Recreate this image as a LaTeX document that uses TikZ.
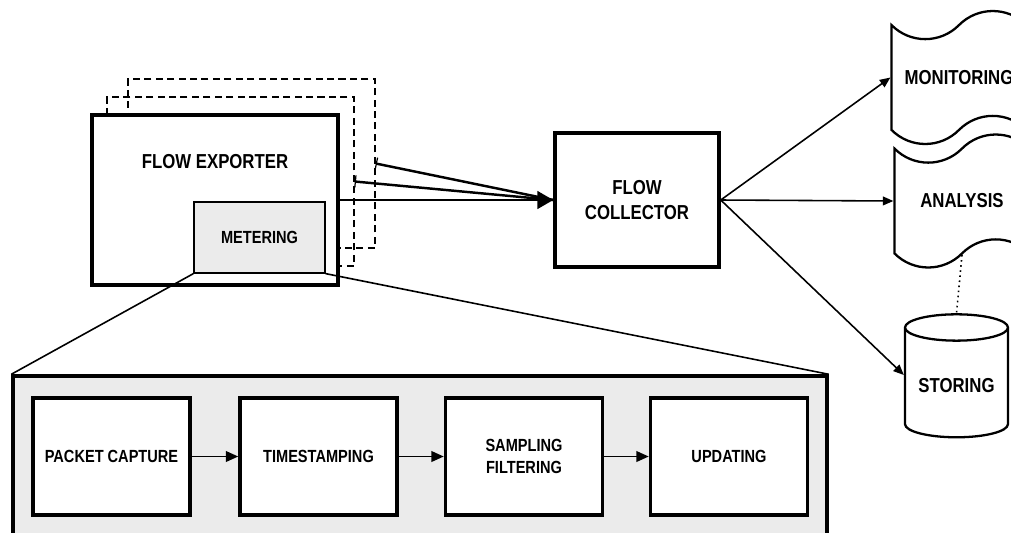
\documentclass[tikz,border=0pt]{standalone}
\usepackage{fontspec}
\newfontfamily\diagfont[FakeStretch=0.83]{Liberation Sans}
\usepackage{tikz}
\usetikzlibrary{arrows.meta,positioning,shapes.symbols,shapes.geometric}
\definecolor{panelgray}{gray}{0.92}
\newcommand\boxfont{\diagfont\bfseries\fontsize{11.5}{14.5}\selectfont}
\newcommand\stagefont{\diagfont\bfseries\fontsize{10}{13}\selectfont}
\tikzset{
  box/.style={draw,line width=2pt,fill=white,align=center,font=\boxfont},
  ghost/.style={draw,dash pattern=on 4pt off 2.5pt,line width=0.9pt,
    minimum width=4.94cm,minimum height=3.38cm},
  meter/.style={draw,line width=0.7pt,fill=panelgray,font=\stagefont},
  frame/.style={draw,line width=2pt,fill=panelgray},
  stage/.style={draw,line width=2pt,fill=white,align=center,font=\stagefont,
    minimum width=3.14cm,minimum height=2.34cm},
  wave/.style={draw,tape,line width=1.3pt,fill=white,font=\boxfont,
    minimum width=2.7cm,minimum height=2.66cm,tape bend height=16pt},
  fat/.style={line width=1.4pt},
  link/.style={line width=0.9pt,-{Triangle[length=6pt,width=5pt]}},
  pass/.style={line width=1.1pt,-{Triangle[length=7pt,width=6pt]}}
}

\begin{document}
\begin{tikzpicture}[x=0.02cm,y=-0.02cm]
  \useasboundingbox (0,0) rectangle (1011,532);
  \clip (0,0) rectangle (1011,532);
  % exporter, with two more behind it
  \node[ghost] (exp2) at (251.5,163.5) {};
  \node[ghost] (exp1) at (230.5,181.5) {};
  \node[box,minimum width=4.92cm,minimum height=3.4cm,
    label={[font=\boxfont,yshift=0.76cm]center:FLOW EXPORTER}] (exp) at (215,200) {};
  \node[meter,minimum width=2.62cm,minimum height=1.42cm] (met) at (259.5,237.5) {METERING};
  % collector
  \node[box,minimum width=3.28cm,minimum height=2.68cm] (col) at (637,200) {FLOW\\COLLECTOR};
  \draw[fat,-{Triangle[length=9pt,width=10pt]}] (exp.east) -- (col.west);
  \draw[fat,{Bar[width=7pt,line width=0.7pt]}-] (exp1.east) -- (col.west);
  \draw[fat,{Bar[width=7pt,line width=0.7pt]}-] (exp2.east) -- (col.west);
  % consumers
  \node[wave] (mon) at (959,77.5) {MONITORING};
  \node[wave] (ana) at (962,201) {ANALYSIS};
  \node[draw,cylinder,shape border rotate=90,aspect=0.3,line width=1.3pt,
    minimum width=2.06cm,minimum height=2.46cm,font=\boxfont] (sto) at (956.5,386) {STORING};
  \draw[link] (col.east) -- (mon.west);
  \draw[link] (col.east) -- (ana.west);
  \draw[link] (col.east) -- ([yshift=0.22cm]sto.west);
  \draw[dotted,line width=0.9pt] (ana.south) -- (sto.north);
  % metering stages
  \node[frame,minimum width=16.28cm,minimum height=3.2cm] (pipe) at (420,456) {};
  \draw[line width=0.9pt] (met.south west) -- (pipe.north west);
  \draw[line width=0.9pt] (met.south east) -- (pipe.north east);
  \node[stage] (cap) at (111.5,456.5) {PACKET CAPTURE};
  \node[stage] (ts) at (318.5,456.5) {TIMESTAMPING};
  \node[stage] (smp) at (524,456.5) {SAMPLING\\FILTERING};
  \node[stage] (upd) at (729,456.5) {UPDATING};
  \foreach \a/\b in {cap/ts,ts/smp,smp/upd}
    \draw[pass] (\a) -- (\b);
\end{tikzpicture}
\end{document}
